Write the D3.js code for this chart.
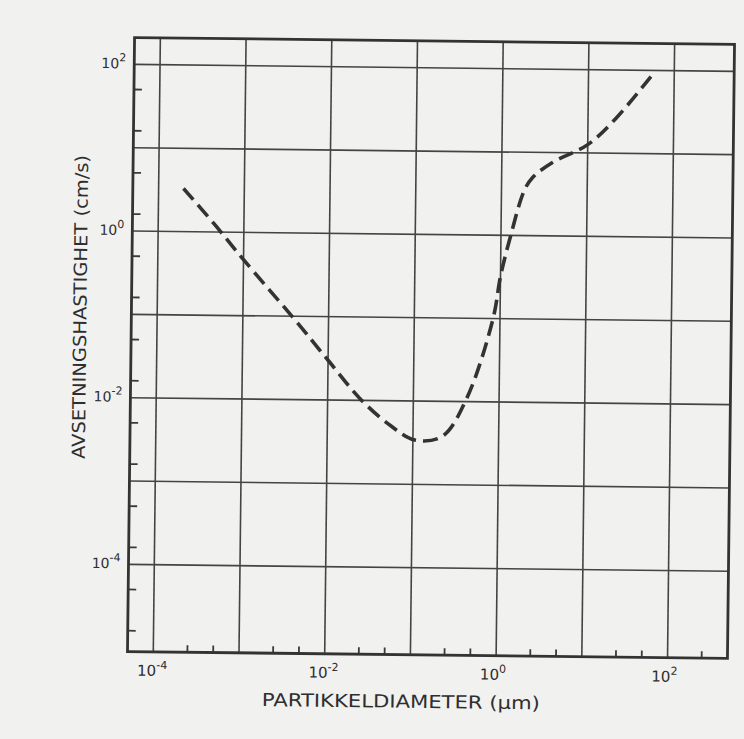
<!doctype html>
<html lang="no">
  <head>
    <meta charset="utf-8">
    <title>avsetningshastighet</title>
    <script src="https://d3js.org/d3.v7.min.js"></script>
    <style>
      body { margin: 0; background: #f1f1f0; }
      svg { display: block; }
      text { font-family: "DejaVu Sans", "Liberation Sans", sans-serif; fill: #2e2e2e; }
    </style>
  </head>
  <body>
    <svg></svg>
    <script>
      // particle diameter (um) and deposition velocity (cm/s)
      var diameter = [1.95e-4, 4.5e-4, 1e-3, 3.9e-3, 1e-2, 2.5e-2, 5.5e-2, 0.105, 0.22, 0.42,
                      0.83, 1.0, 1.3, 1.85, 2.3, 3.9, 10, 21, 60];
      var velocity = [3.3, 1.25, 0.47, 0.095, 0.03, 0.01, 5.0e-3, 3.4e-3, 3.8e-3, 0.011,
                      0.1, 0.32, 1.0, 3.5, 5.0, 7.6, 12.6, 26, 98];

      var xGrid = [1e-4, 1e-3, 1e-2, 1e-1, 1e0, 1e1, 1e2];
      var yGrid = [1e-4, 1e-3, 1e-2, 1e-1, 1e0, 1e1, 1e2];
      var xLabelExps = [-4, -2, 0, 2];
      var yLabelExps = [2, 0, -2, -4];
      var xMinorMult = [2.5, 5];
      var yMinorMult = [1.6, 5];

      var xTitle = "PARTIKKELDIAMETER (\u00b5m)";
      var yTitle = "AVSETNINGSHASTIGHET (cm/s)";

      var W = 744, H = 739;
      // plot frame (before the small tilt); "top" is taken by window, so prefixed
      var pLeft = 131, pRight = 731, pTop = 41, pBottom = 655;

      var svg = d3.select("svg")
        .attr("width", W)
        .attr("height", H);

      // the scanned page sits a little crooked
      var g = svg.append("g")
        .attr("transform", "rotate(0.66, 431, 348)");

      var x = d3.scaleLog().domain([5e-5, 500]).range([pLeft, pRight]);
      var y = d3.scaleLog().domain([9e-6, 210]).range([pBottom, pTop]);

      // grid
      g.selectAll(".vgrid").data(xGrid).enter()
        .append("line")
        .attr("class", "vgrid")
        .attr("x1", function(d){ return x(d) })
        .attr("x2", function(d){ return x(d) })
        .attr("y1", pTop)
        .attr("y2", pBottom)
        .attr("stroke", "#444")
        .attr("stroke-width", 1.6);

      g.selectAll(".hgrid").data(yGrid).enter()
        .append("line")
        .attr("class", "hgrid")
        .attr("x1", pLeft)
        .attr("x2", pRight)
        .attr("y1", function(d){ return y(d) })
        .attr("y2", function(d){ return y(d) })
        .attr("stroke", "#444")
        .attr("stroke-width", 1.6);

      // minor ticks, pointing inward from the left and bottom edges
      var xMinor = [], yMinor = [];
      d3.range(-5, 3).forEach(function(e){
        xMinorMult.forEach(function(m){
          var v = m * Math.pow(10, e);
          if (v > x.domain()[0] && v < x.domain()[1] * 0.99) xMinor.push(v);
        });
        yMinorMult.forEach(function(m){
          var v = m * Math.pow(10, e);
          if (v > y.domain()[0] && v < 100) yMinor.push(v);
        });
      });

      g.selectAll(".xminor").data(xMinor).enter()
        .append("line")
        .attr("x1", function(d){ return x(d) })
        .attr("x2", function(d){ return x(d) })
        .attr("y1", pBottom)
        .attr("y2", pBottom - 7)
        .attr("stroke", "#3a3a3a")
        .attr("stroke-width", 1.8);

      g.selectAll(".yminor").data(yMinor).enter()
        .append("line")
        .attr("x1", pLeft)
        .attr("x2", pLeft + 8)
        .attr("y1", function(d){ return y(d) })
        .attr("y2", function(d){ return y(d) })
        .attr("stroke", "#3a3a3a")
        .attr("stroke-width", 1.8);

      // frame
      g.append("rect")
        .attr("x", pLeft)
        .attr("y", pTop)
        .attr("width", pRight - pLeft)
        .attr("height", pBottom - pTop)
        .attr("fill", "none")
        .attr("stroke", "#333")
        .attr("stroke-width", 2.8);

      // tick labels
      var xl = g.selectAll(".xlab").data(xLabelExps).enter()
        .append("text")
        .attr("class", "xlab")
        .attr("x", function(d){ return x(Math.pow(10, d)) - 16 })
        .attr("y", pBottom + 24)
        .attr("font-size", 15);
      xl.append("tspan").text("10");
      xl.append("tspan")
        .attr("dy", -7)
        .attr("font-size", 11)
        .text(function(d){ return d < 0 ? "-" + (-d) : d });

      var yl = g.selectAll(".ylab").data(yLabelExps).enter()
        .append("text")
        .attr("class", "ylab")
        .attr("text-anchor", "end")
        .attr("x", pLeft - 8)
        .attr("y", function(d){ return y(Math.pow(10, d)) + 4 })
        .attr("font-size", 14);
      yl.append("tspan").text("10");
      yl.append("tspan")
        .attr("dy", -7)
        .attr("font-size", 11)
        .text(function(d){ return d < 0 ? "-" + (-d) : d });

      // axis titles
      g.append("text")
        .attr("x", 266)
        .attr("y", 708)
        .attr("font-size", 18)
        .attr("textLength", 278)
        .attr("lengthAdjust", "spacingAndGlyphs")
        .text(xTitle);

      g.append("text")
        .attr("transform", "translate(86, 463) rotate(-90)")
        .attr("font-size", 18)
        .attr("textLength", 304)
        .attr("lengthAdjust", "spacingAndGlyphs")
        .text(yTitle);

      // dashed curve
      var pts = diameter.map(function(d, i){ return [d, velocity[i]] });
      var line = d3.line()
        .x(function(d){ return x(d[0]) })
        .y(function(d){ return y(d[1]) })
        .curve(d3.curveCatmullRom.alpha(0.5));

      g.append("path")
        .datum(pts)
        .attr("d", line)
        .attr("fill", "none")
        .attr("stroke", "#333")
        .attr("stroke-width", 3.6)
        .attr("stroke-dasharray", "15,7");
    </script>
  </body>
</html>
